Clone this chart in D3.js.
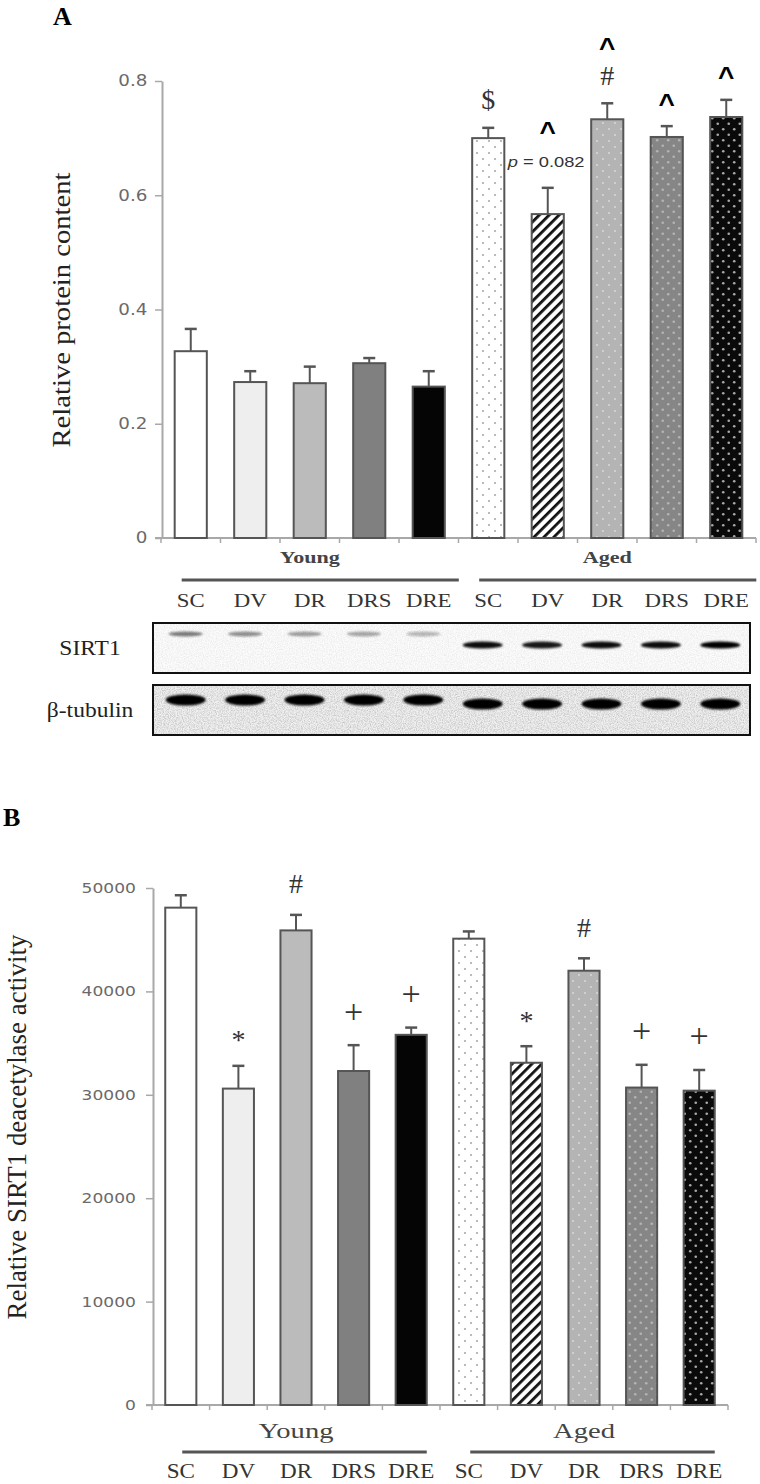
<!DOCTYPE html>
<html><head><meta charset="utf-8">
<script src="https://cdn.jsdelivr.net/npm/d3@7"></script>
<style>body{margin:0;background:#fff}svg{display:block}</style>
</head><body><svg id="c" width="760" height="1484"></svg>
<script>
// ---------- data ----------
const groups = ["Young", "Aged"];
const categories = ["SC", "DV", "DR", "DRS", "DRE", "SC", "DV", "DR", "DRS", "DRE"];
const proteinMean = [0.327, 0.273, 0.271, 0.306, 0.265, 0.700, 0.567, 0.733, 0.702, 0.737];
const proteinErr  = [0.039, 0.019, 0.029, 0.009, 0.027, 0.018, 0.046, 0.028, 0.019, 0.030];
const proteinTicks = [0, 0.2, 0.4, 0.6, 0.8];
const proteinMarks = [[], [], [], [], [], ["$"], ["^"], ["#", "^"], ["^"], ["^"]];
const proteinPLabel = "0.082"; // shown on aged DV
const activityMean = [48100, 30600, 45900, 32300, 35800, 45100, 33100, 42000, 30700, 30400];
const activityErr  = [1200, 2200, 1500, 2500, 700, 700, 1600, 1200, 2200, 2000];
const activityTicks = [0, 10000, 20000, 30000, 40000, 50000];
const activityMarks = [[], ["*"], ["#"], ["+"], ["+"], [], ["*"], ["#"], ["+"], ["+"]];
const sirt1Intensity   = [0.5, 0.42, 0.36, 0.33, 0.26, 0.95, 0.9, 0.95, 0.95, 1.0];
const tubulinIntensity = [1, 1, 1, 1, 1, 1, 1, 1, 1, 1];

// ---------- styles ----------
const fills = ["#ffffff", "#eeeeee", "#bbbbbb", "#808080", "#050505",
  "url(#pDotsW)", "url(#pStripe)", "url(#pDotsL)", "url(#pDotsG)", "url(#pDotsK)"];
const symStyle = {
  "^": {font: "Liberation Sans", weight: "bold", size: 28, c: 0.52},
  "$": {font: "Liberation Serif", weight: "normal", size: 28, c: 0.31},
  "#": {font: "Liberation Serif", weight: "normal", size: 28, c: 0.34},
  "*": {font: "Liberation Serif", weight: "normal", size: 28, c: 0.52},
  "+": {font: "Liberation Serif", weight: "normal", size: 34, c: 0.25}
};

const svg = d3.select("#c");
const defs = svg.append("defs");

function dotPattern(id, bg, dot, r, step) {
  const p = defs.append("pattern").attr("id", id).attr("patternUnits", "userSpaceOnUse")
    .attr("width", step).attr("height", step);
  p.append("rect").attr("width", step).attr("height", step).attr("fill", bg);
  p.append("circle").attr("cx", step * 0.25).attr("cy", step * 0.25).attr("r", r).attr("fill", dot);
  p.append("circle").attr("cx", step * 0.75).attr("cy", step * 0.75).attr("r", r).attr("fill", dot);
}
dotPattern("pDotsW", "#ffffff", "#9a9a9a", 0.9, 12);
dotPattern("pDotsL", "#b4b4b4", "#d6d6d6", 1.1, 12);
dotPattern("pDotsG", "#868686", "#b4b4b4", 1.3, 11);
dotPattern("pDotsK", "#0a0a0a", "#a8a8a8", 1.3, 11);
{
  const p = defs.append("pattern").attr("id", "pStripe").attr("patternUnits", "userSpaceOnUse")
    .attr("width", 7).attr("height", 7).attr("patternTransform", "rotate(45)");
  p.append("rect").attr("width", 7).attr("height", 7).attr("fill", "#fff");
  p.append("rect").attr("width", 2.8).attr("height", 7).attr("fill", "#111");
}
{
  const f = defs.append("filter").attr("id", "noise").attr("x", 0).attr("y", 0).attr("width", "100%").attr("height", "100%");
  f.append("feTurbulence").attr("type", "fractalNoise").attr("baseFrequency", 0.85).attr("numOctaves", 2).attr("seed", 4);
  f.append("feColorMatrix").attr("type", "matrix")
    .attr("values", "0 0 0 0 0.5  0 0 0 0 0.5  0 0 0 0 0.5  1.7 0 0 0 -0.6");
  const b = defs.append("filter").attr("id", "blur").attr("x", "-30%").attr("y", "-100%").attr("width", "160%").attr("height", "300%");
  b.append("feGaussianBlur").attr("stdDeviation", 1.3);
}

function wideText(g, x, y, str, o) {
  const sx = o.sx || 1;
  return g.append("text")
    .attr("transform", `translate(${x},${y}) scale(${sx},1)`)
    .attr("text-anchor", o.anchor || "middle")
    .attr("font-family", o.font || "Liberation Serif")
    .attr("font-weight", o.weight || "normal")
    .attr("font-size", o.size)
    .attr("fill", o.fill || "#222")
    .text(str);
}

function drawPanel(cfg) {
  const g = svg.append("g");
  const x = d3.scaleBand().domain(d3.range(categories.length)).range(cfg.xr)
    .paddingInner(cfg.pad).paddingOuter(cfg.pad / 2);
  const y = d3.scaleLinear().domain(cfg.domain).range(cfg.yr);

  // y axis
  const ax = g.append("g").attr("transform", `translate(${cfg.xr[0] + 1},0)`)
    .call(d3.axisLeft(y).tickValues(cfg.ticks).tickSize(7).tickSizeOuter(0).tickFormat(cfg.fmt));
  ax.select(".domain").attr("stroke", "#a8a8a8").attr("stroke-width", 2);
  ax.selectAll(".tick line").attr("stroke", "#a8a8a8").attr("stroke-width", 1.5);
  ax.selectAll(".tick text").attr("font-family", "DejaVu Sans").attr("font-size", cfg.tickSize)
    .attr("fill", "#6a6a6a").attr("x", -cfg.tickGap).attr("transform", "scale(1.22,1)");

  // x axis line + ticks
  const y0 = y(0);
  g.append("line").attr("x1", cfg.xr[0] - 6).attr("x2", cfg.xr[1]).attr("y1", y0).attr("y2", y0)
    .attr("stroke", "#a8a8a8").attr("stroke-width", 2);
  g.selectAll(".xt").data(d3.range(categories.length + 1)).join("line")
    .attr("x1", i => cfg.xr[0] + i * x.step()).attr("x2", i => cfg.xr[0] + i * x.step())
    .attr("y1", y0).attr("y2", y0 + 5).attr("stroke", "#a8a8a8").attr("stroke-width", 1.5);

  // bars
  g.selectAll(".bar").data(cfg.mean).join("rect")
    .attr("x", (d, i) => x(i)).attr("width", x.bandwidth())
    .attr("y", d => y(d)).attr("height", d => y0 - y(d))
    .attr("fill", (d, i) => fills[i]).attr("stroke", "#555").attr("stroke-width", 2);

  // error bars
  const eb = g.selectAll(".eb").data(cfg.mean).join("g");
  eb.append("line").attr("x1", (d, i) => x(i) + x.bandwidth() / 2).attr("x2", (d, i) => x(i) + x.bandwidth() / 2)
    .attr("y1", d => y(d)).attr("y2", (d, i) => y(d + cfg.err[i])).attr("stroke", "#555").attr("stroke-width", 2);
  eb.append("line").attr("x1", (d, i) => x(i) + x.bandwidth() / 2 - 6).attr("x2", (d, i) => x(i) + x.bandwidth() / 2 + 6)
    .attr("y1", (d, i) => y(d + cfg.err[i])).attr("y2", (d, i) => y(d + cfg.err[i])).attr("stroke", "#555").attr("stroke-width", 2.5);

  // annotations
  cfg.marks.forEach((arr, i) => {
    let cy = y(cfg.mean[i] + cfg.err[i]) - cfg.markGap;
    const cx = x(i) + x.bandwidth() / 2;
    if (cfg.pIndex === i) {
      const t = g.append("text").attr("transform", `translate(${x(i) - 24},${cy + 7}) scale(1.22,1)`)
        .attr("font-family", "Liberation Sans").attr("font-size", 15).attr("fill", "#333");
      t.append("tspan").attr("font-style", "italic").text("p");
      t.append("tspan").text(" = " + proteinPLabel);
      cy -= 33;
    }
    arr.forEach(s => {
      const st = symStyle[s];
      g.append("text").attr("x", cx).attr("y", cy + st.c * st.size).attr("text-anchor", "middle")
        .attr("font-family", st.font).attr("font-weight", st.weight).attr("font-size", st.size)
        .attr("fill", s === "^" ? "#000" : "#333").text(s);
      cy -= 33;
    });
  });

  // y label
  g.append("text").attr("transform", `translate(${cfg.ylab[0]},${cfg.ylab[1]}) rotate(-90)`)
    .attr("text-anchor", "middle").attr("font-family", "Liberation Serif").attr("font-size", cfg.ylab[2])
    .attr("textLength", cfg.ylab[3]).attr("lengthAdjust", "spacingAndGlyphs")
    .attr("fill", "#222").text(cfg.ylabel);

  // panel letter
  g.append("text").attr("x", cfg.letterPos[0]).attr("y", cfg.letterPos[1]).attr("font-family", "Liberation Serif")
    .attr("font-weight", "bold").attr("font-size", 26).attr("fill", "#000").text(cfg.letter);

  // group labels & category labels
  groups.forEach((gname, gi) => {
    const a = x(gi * 5), b = x(gi * 5 + 4) + x.bandwidth();
    wideText(g, (a + b) / 2, y0 + cfg.groupDy, gname, {size: cfg.groupSize, sx: cfg.groupSx, weight: cfg.groupWeight, fill: "#444"});
    g.append("line").attr("x1", a - cfg.lineExt[0]).attr("x2", b + cfg.lineExt[1])
      .attr("y1", y0 + cfg.lineDy).attr("y2", y0 + cfg.lineDy).attr("stroke", "#555").attr("stroke-width", 3);
  });
  categories.forEach((c, i) => {
    wideText(g, x(i) + x.bandwidth() / 2, y0 + cfg.catDy, c, {size: cfg.catSize, sx: cfg.catSx, fill: "#333"});
  });
  return {x, y};
}

// Panel A
drawPanel({
  xr: [161, 756], pad: 0.46, domain: [0, 0.8], yr: [538, 81], ticks: proteinTicks,
  fmt: d => d === 0 ? "0" : d3.format(".1f")(d), tickSize: 15, tickGap: 12,
  mean: proteinMean, err: proteinErr, marks: proteinMarks, markGap: 28, pIndex: 6,
  ylabel: "Relative protein content", ylab: [70, 310, 25, 275],
  letter: "A", letterPos: [53, 25],
  groupDy: 25, groupSize: 17, groupSx: 1.3, groupWeight: "bold",
  lineDy: 42, lineExt: [-7, 14], catDy: 69, catSize: 19, catSx: 1.2
});

// Panel B
drawPanel({
  xr: [152, 728], pad: 0.46, domain: [0, 50000], yr: [1405, 888], ticks: activityTicks,
  fmt: d => String(d), tickSize: 14, tickGap: 14,
  mean: activityMean, err: activityErr, marks: activityMarks, markGap: 31, pIndex: -1,
  ylabel: "Relative SIRT1 deacetylase activity", ylab: [26, 1127, 27, 385],
  letter: "B", letterPos: [3, 826],
  groupDy: 33, groupSize: 22, groupSx: 1.3, groupWeight: "normal",
  lineDy: 47, lineExt: [-17, 0], catDy: 73, catSize: 21, catSx: 1.1
});

// Western blot
const blot = svg.append("g");
const lane = d3.scaleBand().domain(d3.range(categories.length)).range([156, 750]);
const boxes = [
  {label: "SIRT1", y: 623, h: 50, vals: sirt1Intensity, noise: 0.35, bg: "#fcfcfc"},
  {label: "β-tubulin", y: 685, h: 50, vals: tubulinIntensity, noise: 1, bg: "#f0f0f0"}
];
boxes.forEach((bx, bi) => {
  blot.append("rect").attr("x", 153).attr("y", bx.y).attr("width", 597).attr("height", bx.h).attr("fill", bx.bg);
  blot.append("rect").attr("x", 153).attr("y", bx.y).attr("width", 597).attr("height", bx.h)
    .attr("filter", "url(#noise)").attr("opacity", bx.noise);
  blot.selectAll(null).data(bx.vals).join("ellipse")
    .attr("cx", (d, i) => lane(i) + lane.bandwidth() / 2)
    .attr("cy", (d, i) => bi === 0 ? (i < 5 ? bx.y + 11 : bx.y + 22) : (i < 5 ? bx.y + 15 : bx.y + 19))
    .attr("rx", (d, i) => bi === 0 && i < 5 ? 17 : 20)
    .attr("ry", (d, i) => bi === 0 ? (i < 5 ? 2.4 : 3.6) : 5.5)
    .attr("fill", "#000").attr("opacity", d => d).attr("filter", "url(#blur)");
  blot.append("rect").attr("x", 153).attr("y", bx.y).attr("width", 597).attr("height", bx.h)
    .attr("fill", "none").attr("stroke", "#111").attr("stroke-width", 2);
  wideText(blot, 90, bx.y + bx.h / 2 + 7, bx.label, {size: 21, sx: 1.12, fill: "#222"});
});
</script></body></html>
